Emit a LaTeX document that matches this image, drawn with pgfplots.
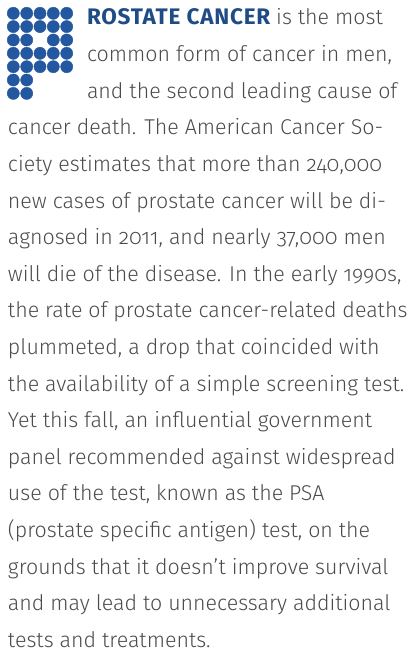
\documentclass[border=0pt]{standalone}
\usepackage{fontspec}
\setmainfont{Fira Sans Light}[Numbers=OldStyle]
\newfontfamily\headfont{Fira Sans Bold}[LetterSpace=3.5]
\usepackage{pgfplots}
\pgfplotsset{compat=1.18}
\definecolor{dotblue}{HTML}{2357A0}
\definecolor{headblue}{HTML}{1F4B86}
\definecolor{bodygray}{HTML}{4B4B4D}
\tikzset{txt/.style={font=\fontsize{21.4}{24}\selectfont, text=bodygray, inner sep=0pt, outer sep=0pt, anchor=base west}}
\pgfplotstableread{
x y
13.3 13.3
26.7 13.3
40.0 13.3
53.3 13.3
66.7 13.3
13.3 26.6
26.7 26.6
40.0 26.6
53.3 26.6
66.7 26.6
13.3 40.0
26.7 40.0
53.3 40.0
66.7 40.0
13.3 53.3
26.7 53.3
40.0 53.3
53.3 53.3
66.7 53.3
13.3 66.7
26.7 66.7
40.0 66.7
53.3 66.7
66.7 66.7
13.3 80.0
26.7 80.0
13.3 93.4
26.7 93.4
}\dotsP
\begin{document}
\begin{tikzpicture}
\begin{axis}[
  width=409pt, height=663pt, scale only axis,
  xmin=0, xmax=409, ymin=0, ymax=663, y dir=reverse,
  hide axis, clip=false,
]
\draw[draw=none] (rel axis cs:0,0) rectangle (rel axis cs:1,1);
\addplot[only marks, mark=*, mark size=6.1pt, color=dotblue, mark options={draw=none, fill=dotblue}] table {\dotsP};
\node[txt] at (axis cs:87,25.0) {{\headfont\fontsize{22.5}{24}\selectfont\color{headblue}ROSTATE CANCER} is the most};
\node[txt] at (axis cs:87,61.6) {common form of cancer in men,};
\node[txt] at (axis cs:87,98.2) {and the second leading cause of};
\node[txt] at (axis cs:8,134.8) {cancer death. The American Cancer So-};
\node[txt] at (axis cs:8,171.4) {ciety estimates that more than 240,000};
\node[txt] at (axis cs:8,208.0) {new cases of prostate cancer will be di-};
\node[txt] at (axis cs:8,244.6) {agnosed in 2011, and nearly 37,000 men};
\node[txt] at (axis cs:8,281.2) {will die of the disease. In the early 1990s,};
\node[txt] at (axis cs:8,317.8) {the rate of prostate cancer-related deaths};
\node[txt] at (axis cs:8,354.4) {plummeted, a drop that coincided with};
\node[txt] at (axis cs:8,391.0) {the availability of a simple screening test.};
\node[txt] at (axis cs:8,427.6) {Yet this fall, an influential government};
\node[txt] at (axis cs:8,464.2) {panel recommended against widespread};
\node[txt] at (axis cs:8,500.8) {use of the test, known as the PSA};
\node[txt] at (axis cs:8,537.4) {(prostate specific antigen) test, on the};
\node[txt] at (axis cs:8,574.0) {grounds that it doesn’t improve survival};
\node[txt] at (axis cs:8,610.6) {and may lead to unnecessary additional};
\node[txt] at (axis cs:8,647.2) {tests and treatments.};
\end{axis}
\end{tikzpicture}
\end{document}
